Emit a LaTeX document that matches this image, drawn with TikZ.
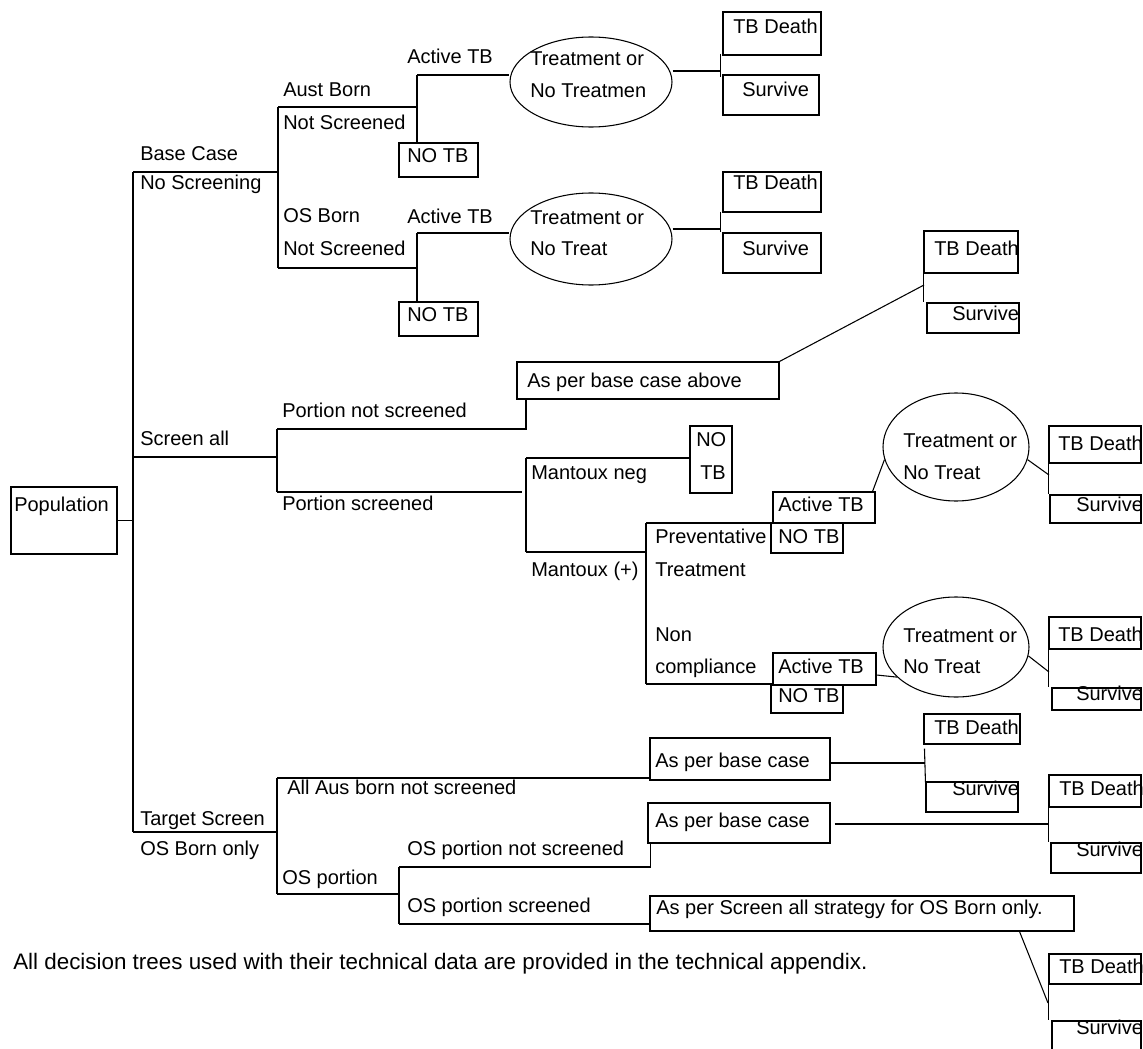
\documentclass[tikz,border=0pt]{standalone}
\usepackage{fontspec}
\setmainfont{Liberation Sans}
\usetikzlibrary{fit,shapes.geometric,calc}
\begin{document}
\begin{tikzpicture}[x=0.75pt,y=-0.75pt,
  box/.style={draw=black, line width=0.8pt, inner sep=0pt, rectangle},
  lbl/.style={anchor=base west, inner sep=0pt, font=\fontsize{15}{18}\selectfont},
  ell/.style={draw=black, line width=0.8pt, ellipse, inner sep=0pt},
  ln/.style={draw=black, line width=0.8pt}]
\useasboundingbox[fill=white] (0,0) rectangle (1143,1049);

% ---------- boxes ----------
\node[box, fit={(11,487) (117,554)}] (pop) {};
\node[box, fit={(399,143) (478,177)}] (notb1) {};
\node[box, fit={(399,302) (478,336)}] (notb2) {};
\node[box, fit={(723,12) (821,55)}] (death1) {};
\node[box, fit={(723,75) (819,115)}] (surv1) {};
\node[box, fit={(723,172) (821,212)}] (death2) {};
\node[box, fit={(723,233) (821,273)}] (surv2) {};
\node[box, fit={(924,231) (1018,273)}] (death3) {};
\node[box, fit={(927,303) (1019,333)}] (surv3) {};
\node[box, fit={(517,362) (779,399)}] (asabove) {};
\node[box, fit={(690,426) (732,493)}] (notb3) {};
\node[box, fit={(773,492) (875,523)}] (active3) {};
\node[box, fit={(771,523) (843,553)}] (notb4) {};
\node[box, fit={(773,653) (876,685)}] (active4) {};
\node[box, fit={(771,685) (843,713)}] (notb5) {};
\node[box, fit={(1049,426) (1141,463)}] (death4) {};
\node[box, fit={(1050,495) (1141,523)}] (surv4) {};
\node[box, fit={(1049,617) (1141,649)}] (death5) {};
\node[box, fit={(1052,688) (1141,710)}] (surv5) {};
\node[box, fit={(924,714) (1020,744)}] (death6) {};
\node[box, fit={(926,782) (1018,812)}] (surv6) {};
\node[box, fit={(650,738) (830,780)}] (asbase1) {};
\node[box, fit={(648,803) (830,843)}] (asbase2) {};
\node[box, fit={(1049,775) (1141,807)}] (death7) {};
\node[box, fit={(1051,843) (1141,873)}] (surv7) {};
\node[box, fit={(650,896) (1074,931)}] (asscreen) {};
\node[box, fit={(1049,954) (1141,984)}] (death8) {};
\node[box, fit={(1052,1021) (1141,1056)}] (surv8) {};

% ---------- ellipses ----------
\node[ell, minimum width=121.5pt, minimum height=67.5pt] (e1) at (591,82) {};
\node[ell, minimum width=121.5pt, minimum height=69pt] (e2) at (591,239) {};
\node[ell, minimum width=109.5pt, minimum height=81pt] (e3) at (956,447) {};
\node[ell, minimum width=109.5pt, minimum height=75pt] (e4) at (956,647) {};

% ---------- texts ----------
\node[lbl] (tpop) at (14,511) {Population};
\node[lbl] (tbase1) at (140,161) {Base Case};
\node[lbl] (tbase2) at (140,190) {No Screening};
\node[lbl] (taust1) at (283,97) {Aust Born};
\node[lbl] (taust2) at (283,129) {Not Screened};
\node[lbl] (tos1) at (283,222) {OS Born};
\node[lbl] (tos2) at (283,255) {Not Screened};
\node[lbl] (tact1) at (407,64) {Active TB};
\node[lbl] (tact2) at (407,223) {Active TB};
\node[lbl] (tnotb1) at (407,162) {NO TB};
\node[lbl] (tnotb2) at (407,321) {NO TB};
\node[lbl] (te1a) at (530,66) {Treatment or};
\node[lbl] (te1b) at (530,98) {No Treatmen};
\node[lbl] (te2a) at (530,224) {Treatment or};
\node[lbl] (te2b) at (530,255) {No Treat};
\node[lbl] (tdeath1) at (733,34) {TB Death};
\node[lbl] (tsurv1) at (742,97) {Survive};
\node[lbl] (tdeath2) at (733,190) {TB Death};
\node[lbl] (tsurv2) at (742,255) {Survive};
\node[lbl] (tdeath3) at (934,255) {TB Death};
\node[lbl] (tsurv3) at (952,320) {Survive};
\node[lbl] (tasabove) at (527,387) {As per base case above};
\node[lbl] (tscreen) at (140,445) {Screen all};
\node[lbl] (tpns) at (282,417) {Portion not screened};
\node[lbl] (tps) at (282,510) {Portion screened};
\node[lbl] (tmneg) at (531,479) {Mantoux neg};
\node[lbl] (tmpos) at (531,576) {Mantoux (+)};
\node[lbl] (tno3) at (696,446) {NO};
\node[lbl] (ttb3) at (700,479) {TB};
\node[lbl] (tact3) at (778,511) {Active TB};
\node[lbl] (tnotb4) at (778,543) {NO TB};
\node[lbl] (tprev1) at (655,543) {Preventative};
\node[lbl] (tprev2) at (655,576) {Treatment};
\node[lbl] (tnon1) at (655,641) {Non};
\node[lbl] (tnon2) at (655,673) {compliance};
\node[lbl] (tact4) at (778,673) {Active TB};
\node[lbl] (tnotb5) at (778,702) {NO TB};
\node[lbl] (te3a) at (903,447) {Treatment or};
\node[lbl] (te3b) at (903,479) {No Treat};
\node[lbl] (te4a) at (903,642) {Treatment or};
\node[lbl] (te4b) at (903,673) {No Treat};
\node[lbl] (tdeath4) at (1058,450) {TB Death};
\node[lbl] (tsurv4) at (1076,511) {Survive};
\node[lbl] (tdeath5) at (1058,641) {TB Death};
\node[lbl] (tsurv5) at (1076,700) {Survive};
\node[lbl] (tdeath6) at (934,734) {TB Death};
\node[lbl] (tsurv6) at (952,795) {Survive};
\node[lbl] (tasbase1) at (655,767) {As per base case};
\node[lbl] (tasbase2) at (655,827) {As per base case};
\node[lbl] (tdeath7) at (1059,795) {TB Death};
\node[lbl] (tsurv7) at (1076,856) {Survive};
\node[lbl] (ttarget1) at (140,825) {Target Screen};
\node[lbl] (ttarget2) at (140,855) {OS Born only};
\node[lbl] (tallaus) at (287,794) {All Aus born not screened};
\node[lbl] (tosp) at (282,884) {OS portion};
\node[lbl] (tospns) at (407,855) {OS portion not screened};
\node[lbl] (tosps) at (407,912) {OS portion screened};
\node[lbl] (tasscreen) at (656,914) {As per Screen all strategy for OS Born only.};
\node[lbl] (tdeath8) at (1059,973) {TB Death};
\node[lbl] (tsurv8) at (1076,1034) {Survive};
\node[lbl, font=\fontsize{16.8}{20}\selectfont] (tcaption) at (13,969) {All decision trees used with their technical data are provided in the technical appendix.};

% ---------- junction coordinates ----------
\coordinate (trunkTop) at (133,172);
\coordinate (trunkScr) at (133,457);
\coordinate (trunkBot) at (133,832);
\coordinate (bTop) at (278,107);
\coordinate (bMid) at (278,172);
\coordinate (bBot) at (278,268);
\coordinate (austJ) at (417,107);
\coordinate (austTop) at (417,75);
\coordinate (osJ) at (417,268);
\coordinate (osTop) at (417,233);
\coordinate (d1) at (721,71);
\coordinate (d2) at (721,229);
\coordinate (sTop) at (277,429);
\coordinate (sMid) at (277,457);
\coordinate (sBot) at (277,492);
\coordinate (pnsEnd) at (526,429);
\coordinate (psEnd) at (522,492);
\coordinate (mTop) at (526,458);
\coordinate (mBot) at (526,552);
\coordinate (pTop) at (646,523);
\coordinate (pMid) at (646,552);
\coordinate (pBot) at (646,684);
\coordinate (d3) at (924,285);
\coordinate (d4) at (1049,475);
\coordinate (d5) at (1049,672);
\coordinate (d6) at (925,763);
\coordinate (tTop) at (277,778);
\coordinate (tMid) at (277,832);
\coordinate (tBot) at (277,894);
\coordinate (oJ) at (399,894);
\coordinate (oTop) at (399,867);
\coordinate (oBot) at (399,924);
\coordinate (d7) at (1049,824);
\coordinate (d8) at (1048,1003);

% ---------- connectors ----------
\draw[ln] (trunkTop) -- (trunkBot);
\draw[ln] (pop.east) -- (pop.east -| trunkTop);
% base case
\draw[ln] (trunkTop) -- (bMid);
\draw[ln] (bTop) -- (bBot);
\draw[ln] (bTop) -- (austJ);
\draw[ln] (austTop) -- (austTop |- notb1.north);
\draw[ln] (austTop) -- (austTop -| e1.west);
\draw[ln] (bBot) -- (osJ);
\draw[ln] (osTop) -- (osTop |- notb2.north);
\draw[ln] (osTop) -- (osTop -| e2.west);
\draw[ln] (e1.east |- d1) -- (d1);
\draw[ln] ($(death1.south west)+(-2,-2)$) -- ($(surv1.north west)+(-2,3)$);
\draw[ln] (e2.east |- d2) -- (d2);
\draw[ln] ($(death2.south west)+(-2,-1)$) -- ($(surv2.north west)+(-2,0)$);
% screen all
\draw[ln] (trunkScr) -- (sMid);
\draw[ln] (sTop) -- (sBot);
\draw[ln] (sTop) -- (pnsEnd) -- (pnsEnd |- asabove.south);
\draw[ln] (asabove.north east) -- (d3);
\draw[ln] (death3.south west) -- (death3.south west |- surv3.north);
\draw[ln] (sBot) -- (psEnd);
\draw[ln] (mTop) -- (mBot);
\draw[ln] (mTop) -- (mTop -| notb3.west);
\draw[ln] (mBot) -- (pMid);
\draw[ln] (pTop) -- (pBot);
\draw[ln] (pTop) -- (pTop -| active3.west);
\draw[ln] (pBot) -- (pBot -| active4.west);
\draw[ln] ($(active3.north east)+(-3,0)$) -- (e3.190);
\draw[ln] (e3.-10) -- (d4);
\draw[ln] (death4.south west) -- (death4.south west |- surv4.north);
\draw[ln] ($(active4.east)+(0,6)$) -- (e4.207);
\draw[ln] (e4.-7) -- (d5);
\draw[ln] (death5.south west) -- (death5.south west |- surv5.north);
% target screen
\draw[ln] (trunkBot) -- (tMid);
\draw[ln] (tTop) -- (tBot);
\draw[ln] (tTop) -- (tTop -| asbase1.west);
\draw[ln] ($(asbase1.east)+(0,4)$) -- (d6);
\draw[ln] ($(death6.south west)+(1,4)$) -- ($(surv6.north west)+(0,1)$);
\draw[ln] (tBot) -- (oJ);
\draw[ln] (oTop) -- (oBot);
\draw[ln] (oTop) -- ($(oTop -| asbase2.west)+(3,0)$) -- ($(asbase2.south west)+(3,0)$);
\draw[ln] ($(asbase2.east)+(4,1)$) -- (d7);
\draw[ln] (death7.south west) -- (death7.south west |- surv7.north);
\draw[ln] (oBot) -- (oBot -| asscreen.west);
\draw[ln] ($(asscreen.south east)+(-55,0)$) -- (d8);
\draw[ln] (death8.south west) -- (death8.south west |- surv8.north);
\end{tikzpicture}
\end{document}
